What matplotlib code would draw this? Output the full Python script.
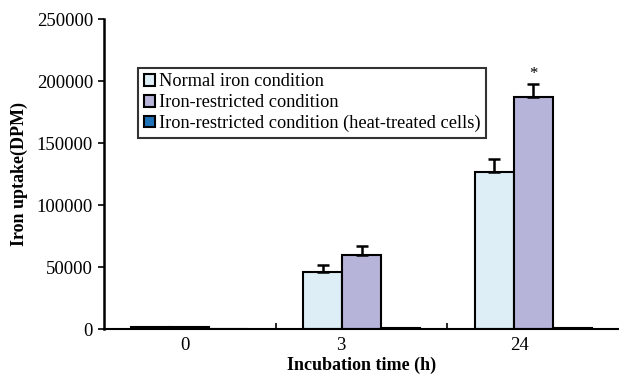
import matplotlib
matplotlib.use("Agg")
import matplotlib.pyplot as plt
import numpy as np

categories = ["0", "3", "24"]
series_names = ["Normal iron condition", "Iron-restricted condition",
                "Iron-restricted condition (heat-treated cells)"]
normal = [1500, 46000, 126500]
normal_err = [0, 5400, 11000]
restricted = [1500, 59800, 186800]
restricted_err = [0, 7500, 11000]
heat = [300, 1000, 1000]
heat_err = [0, 0, 0]
yticks = [0, 50000, 100000, 150000, 200000, 250000]
colors = ["#DDEEF6", "#B6B4D8", "#1F72B8"]

plt.rcParams['font.family'] = ['Liberation Serif', 'DejaVu Serif']

fig = plt.figure(figsize=(6.19, 3.75), dpi=100)
ax = fig.add_axes([104/619, 1-329/375, 1-104/619, (329-19)/375])

x = np.arange(len(categories))
w = 0.227
data = [(normal, normal_err), (restricted, restricted_err), (heat, heat_err)]
for i, ((vals, errs), name, c) in enumerate(zip(data, series_names, colors)):
    pos = x + (i - 1) * w
    ax.bar(pos, vals, width=w, color=c, edgecolor="black", linewidth=1.5,
           label=name, zorder=2)
    for p, v, e in zip(pos, vals, errs):
        if e > 0:
            ax.errorbar([p], [v], yerr=[[0], [e]], fmt="none", ecolor="black",
                        elinewidth=1.8, capsize=4, capthick=1.8, zorder=3)

ax.text(x[2], restricted[2] + restricted_err[2] + 1500, "*", ha="center",
        va="bottom", fontsize=12)

ax.set_xlim(-0.5, 2.5)
ax.set_ylim(0, 250000)
ax.set_yticks(yticks)
ax.set_yticklabels([str(t) for t in yticks], fontsize=13.5)
ax.tick_params(axis="y", direction="out", length=4, width=1.2, pad=4)

ax.set_xticks([0.5, 1.5])
ax.set_xticklabels([])
ax.tick_params(axis="x", which="major", direction="in", length=4, width=1.2)
label_offsets = [-0.03, -0.12, -0.08]
ax.set_xticks(x + np.array(label_offsets), minor=True)
ax.set_xticklabels(categories, minor=True, fontsize=13.5)
ax.tick_params(axis="x", which="minor", length=0, pad=6)

for s in ["top", "right"]:
    ax.spines[s].set_visible(False)
ax.spines["left"].set_linewidth(1.8)
ax.spines["bottom"].set_linewidth(1.5)

ax.set_ylabel("Iron uptake(DPM)", fontsize=13, fontweight="bold", labelpad=6)
ax.set_xlabel("Incubation time (h)", fontsize=13, fontweight="bold", labelpad=2)

leg = ax.legend(loc="upper left", bbox_to_anchor=(34/515, 1-(68-19)/310),
                fontsize=13.2, frameon=True, fancybox=False, edgecolor="black",
                handlelength=0.6, handleheight=0.6, handletextpad=0.25,
                labelspacing=0.2, borderpad=0.3, borderaxespad=0)
leg.get_frame().set_linewidth(1.5)

fig.savefig("out.png", dpi=100)
